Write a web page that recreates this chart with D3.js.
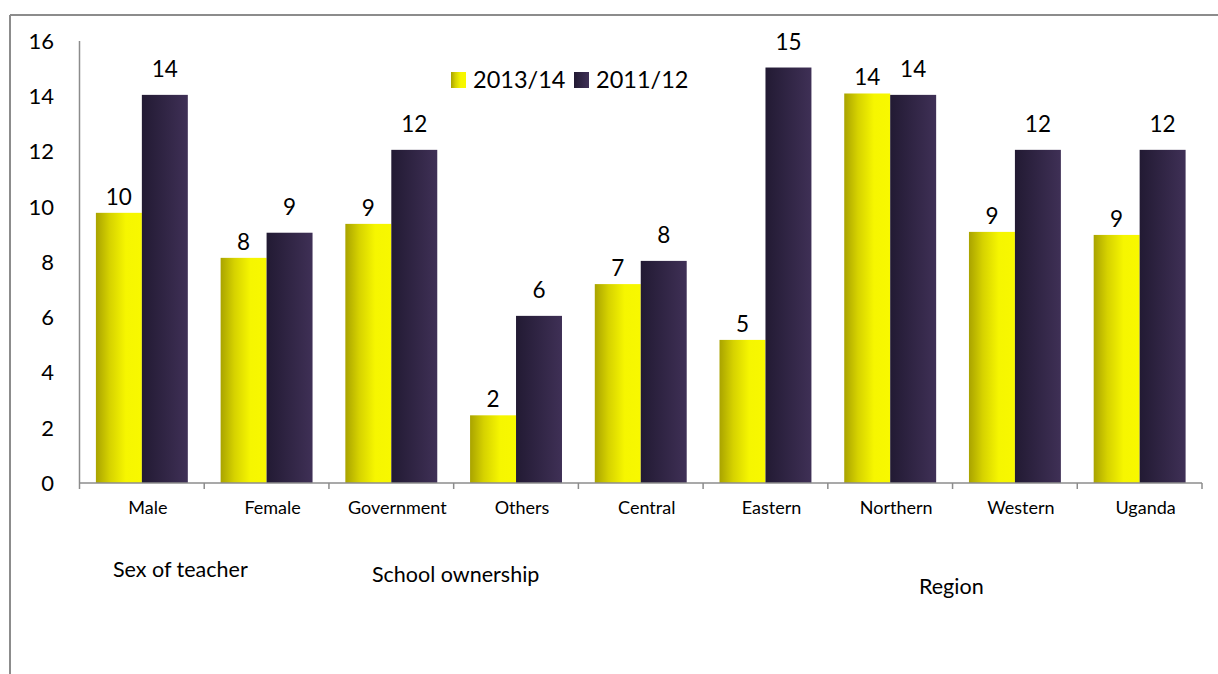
<!DOCTYPE html>
<html>
<head>
<meta charset="utf-8">
<script src="https://cdn.jsdelivr.net/npm/d3@7/dist/d3.min.js"></script>
<style>
  html, body { margin: 0; padding: 0; background: #ffffff; }
  svg { display: block; }
  text { font-family: Lato, "Open Sans", sans-serif; fill: #000; }
</style>
</head>
<body>
<svg id="chart" width="1218" height="674"></svg>
<script>
// Pupil–teacher related indicator by group, two survey rounds
const categories = ["Male", "Female", "Government", "Others", "Central", "Eastern", "Northern", "Western", "Uganda"];
const seriesNames = ["2013/14", "2011/12"];
const values2013 = [9.78, 8.15, 9.38, 2.45, 7.2, 5.18, 14.1, 9.09, 8.98];
const values2011 = [14.05, 9.06, 12.06, 6.05, 8.04, 15.04, 14.05, 12.06, 12.06];
const yTicks = [0, 2, 4, 6, 8, 10, 12, 14, 16];
const groupLabels = ["Sex of teacher", "School ownership", "Region"];

const svg = d3.select("#chart");
const W = 1218, H = 674;

// outer frame (top and left edges visible)
svg.append("line").attr("x1", 10).attr("y1", 15).attr("x2", W).attr("y2", 15)
  .attr("stroke", "#8c8c8c").attr("stroke-width", 2);
svg.append("line").attr("x1", 10).attr("y1", 15).attr("x2", 10).attr("y2", H)
  .attr("stroke", "#8c8c8c").attr("stroke-width", 2);

// gradients
const defs = svg.append("defs");
const gY = defs.append("linearGradient").attr("id", "gradYellow")
  .attr("x1", "0%").attr("x2", "100%").attr("y1", "0%").attr("y2", "0%");
gY.append("stop").attr("offset", "0%").attr("stop-color", "#a9a300");
gY.append("stop").attr("offset", "30%").attr("stop-color", "#d6d200");
gY.append("stop").attr("offset", "65%").attr("stop-color", "#f6f600");
gY.append("stop").attr("offset", "100%").attr("stop-color", "#f8f800");
const gP = defs.append("linearGradient").attr("id", "gradPurple")
  .attr("x1", "0%").attr("x2", "100%").attr("y1", "0%").attr("y2", "0%");
gP.append("stop").attr("offset", "0%").attr("stop-color", "#221a33");
gP.append("stop").attr("offset", "100%").attr("stop-color", "#3f3056");
const fills = ["url(#gradYellow)", "url(#gradPurple)"];

const x0 = 79.5, x1 = 1202;
const y = d3.scaleLinear().domain([0, 16]).range([483, 41]);
const x = d3.scaleBand().domain(categories).range([x0, x1])
  .paddingInner(0.263).paddingOuter(0.1315);
const xs = d3.scaleBand().domain(seriesNames).range([0, x.bandwidth()]);

const data = categories.map((c, i) => ({ cat: c, vals: [values2013[i], values2011[i]] }));

// y axis: line only, labels to the left
svg.append("line").attr("x1", x0).attr("x2", x0).attr("y1", y(16)).attr("y2", y(0))
  .attr("stroke", "#8c8c8c").attr("stroke-width", 1.5);
svg.append("g").selectAll("text").data(yTicks).join("text")
  .attr("x", 54).attr("y", d => y(d)).attr("dy", "0.36em")
  .attr("text-anchor", "end").attr("font-size", 22).text(d => d);

// bars
const groups = svg.append("g").selectAll("g").data(data).join("g")
  .attr("transform", d => `translate(${x(d.cat)},0)`);
groups.selectAll("rect").data(d => d.vals.map((v, k) => ({ s: seriesNames[k], v, k })))
  .join("rect")
  .attr("x", d => xs(d.s)).attr("width", xs.bandwidth())
  .attr("y", d => y(d.v)).attr("height", d => y(0) - y(d.v))
  .attr("fill", d => fills[d.k]);

// value labels
const fmt = d3.format(".0f");
groups.selectAll("text.val").data(d => d.vals.map((v, k) => ({ s: seriesNames[k], v, k })))
  .join("text").attr("class", "val")
  .attr("x", d => xs(d.s) + xs.bandwidth() / 2)
  .attr("y", d => y(d.v) - (d.k === 0 ? 8 : 18))
  .attr("text-anchor", "middle").attr("font-size", 22.5)
  .text(d => fmt(d.v));

// x axis with boundary ticks
const xAxis = d3.axisBottom(x).tickSize(0).tickPadding(18);
const gx = svg.append("g").attr("transform", `translate(0,${y(0)})`).call(xAxis);
gx.select(".domain").attr("stroke", "#8c8c8c").attr("stroke-width", 1.5)
  .attr("d", `M${x0},0H${x1}`);
gx.selectAll(".tick text").attr("font-size", 18).attr("font-family", "Lato, 'Open Sans', sans-serif")
  .attr("fill", "#000").attr("dx", 6);
const step = x.step();
const bounds = d3.range(categories.length + 1).map(i => x0 + i * step);
svg.append("g").selectAll("line").data(bounds).join("line")
  .attr("x1", d => d).attr("x2", d => d).attr("y1", y(0)).attr("y2", y(0) + 6)
  .attr("stroke", "#8c8c8c").attr("stroke-width", 1.5);

// group captions
const groupPos = [[113, 577], [372, 582], [919, 594]];
svg.append("g").selectAll("text").data(groupLabels).join("text")
  .attr("x", (d, i) => groupPos[i][0]).attr("y", (d, i) => groupPos[i][1])
  .attr("font-size", 21.5).text(d => d);

// legend
const legend = svg.append("g").attr("transform", "translate(451,72)");
const legX = [0, 123];
seriesNames.forEach((s, i) => {
  const g = legend.append("g").attr("transform", `translate(${legX[i]},0)`);
  g.append("rect").attr("width", 15).attr("height", 16).attr("fill", fills[i]);
  g.append("text").attr("x", 22).attr("y", 16).attr("font-size", 23.5).text(s);
});
</script>
</body>
</html>
